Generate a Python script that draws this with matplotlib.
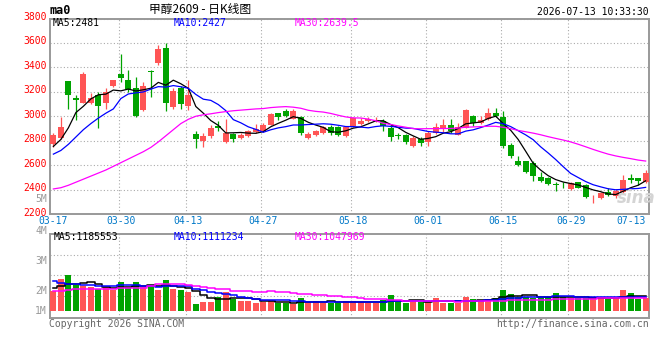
import matplotlib
matplotlib.use("Agg")
import matplotlib.pyplot as plt
import matplotlib.transforms as mtransforms
import numpy as np
import pandas as pd

# 交易日
dates = [
    "03-17", "03-18", "03-19", "03-20", "03-23", "03-24", "03-25", "03-26", "03-27", "03-30", "03-31",
    "04-01", "04-02", "04-03", "04-07", "04-08", "04-09", "04-10", "04-13", "04-14", "04-15", "04-16",
    "04-17", "04-20", "04-21", "04-22", "04-23", "04-24", "04-27", "04-28", "04-29", "04-30",
    "05-06", "05-07", "05-08", "05-11", "05-12", "05-13", "05-14", "05-15", "05-18", "05-19", "05-20",
    "05-21", "05-22", "05-25", "05-26", "05-27", "05-28", "05-29",
    "06-01", "06-02", "06-03", "06-04", "06-05", "06-08", "06-09", "06-10", "06-11", "06-12",
    "06-15", "06-16", "06-17", "06-18", "06-22", "06-23", "06-24", "06-25", "06-26", "06-29", "06-30",
    "07-01", "07-02", "07-03", "07-06", "07-07", "07-08", "07-09", "07-10", "07-13",
]
tick_dates = ["03-17", "03-30", "04-13", "04-27", "05-18", "06-01", "06-15", "06-29", "07-13"]

opens = [2772, 2822, 3288, 3150, 3109, 3109, 3170, 3109, 3247, 3348,
         3296, 3228, 3055, 3370, 3434, 3557, 3074, 3228, 3082, 2852,
         2794, 2835, 2918, 2786, 2855, 2822, 2835, 2871, 2877, 2932,
         3025, 3040, 2980, 2992, 2822, 2844, 2863, 2915, 2912, 2835,
         2918, 2937, 2959, 2963, 2959, 2904, 2843, 2844, 2753, 2813,
         2789, 2863, 2899, 2932, 2849, 2904, 3000, 2945, 2975, 3025,
         2992, 2767, 2635, 2630, 2616, 2500, 2492, 2440, 2445, 2405,
         2459, 2438, 2330, 2329, 2384, 2351, 2384, 2498, 2492, 2465]
highs = [2860, 2990, 3290, 3175, 3365, 3190, 3200, 3230, 3300, 3508,
         3380, 3320, 3280, 3375, 3580, 3600, 3230, 3250, 3300, 2877,
         2860, 2925, 2960, 2981, 2860, 2862, 2885, 2938, 2945, 3030,
         3030, 3058, 3060, 3000, 2870, 2885, 2920, 2925, 2918, 2918,
         2992, 2985, 2992, 2992, 2980, 2935, 2865, 2855, 2837, 2830,
         2880, 2945, 2975, 2975, 2945, 3060, 3012, 3000, 3065, 3070,
         3041, 2780, 2675, 2630, 2635, 2545, 2505, 2460, 2465, 2465,
         2465, 2445, 2352, 2378, 2410, 2405, 2520, 2530, 2498, 2560]
lows = [2750, 2815, 3058, 2967, 3105, 3100, 2904, 3063, 3240, 3280,
        3200, 2990, 3040, 3160, 3420, 3040, 3060, 3060, 3050, 2737,
        2745, 2820, 2880, 2780, 2790, 2815, 2828, 2860, 2870, 2925,
        2970, 2990, 2975, 2850, 2815, 2838, 2855, 2850, 2835, 2830,
        2915, 2930, 2955, 2955, 2880, 2800, 2810, 2775, 2745, 2760,
        2753, 2855, 2870, 2865, 2843, 2900, 2920, 2940, 2970, 2990,
        2739, 2660, 2590, 2535, 2470, 2465, 2438, 2390, 2410, 2398,
        2410, 2335, 2290, 2325, 2350, 2335, 2375, 2455, 2440, 2450]
closes = [2849, 2909, 3173, 3129, 3348, 3150, 3080, 3198, 3296, 3315,
          3225, 3000, 3247, 3360, 3554, 3109, 3206, 3101, 3173, 2811,
          2835, 2904, 2904, 2863, 2817, 2849, 2877, 2896, 2932, 3016,
          2990, 3005, 3040, 2863, 2855, 2877, 2910, 2860, 2845, 2912,
          2986, 2965, 2981, 2967, 2918, 2827, 2840, 2789, 2822, 2780,
          2863, 2910, 2932, 2883, 2910, 3055, 2945, 2973, 3025, 3005,
          2753, 2671, 2597, 2542, 2514, 2473, 2443, 2437, 2442, 2451,
          2416, 2342, 2335, 2370, 2357, 2390, 2479, 2479, 2471, 2539]
volumes = [1600000, 2560000, 2880000, 2080000, 2020000, 1940000, 1740000, 1940000, 1680000, 2320000,
           1940000, 2320000, 1940000, 2020000, 1680000, 2480000, 1760000, 1680000, 1540000, 560000,
           740000, 740000, 1140000, 1540000, 940000, 820000, 820000, 660000, 740000, 800000,
           620000, 620000, 540000, 1060000, 740000, 820000, 620000, 620000, 620000, 820000,
           820000, 740000, 620000, 620000, 880000, 1280000, 740000, 660000, 800000, 740000,
           800000, 1060000, 660000, 660000, 660000, 1140000, 960000, 880000, 960000, 1060000,
           1680000, 1360000, 1100000, 1140000, 1060000, 1020000, 1100000, 1460000, 1140000, 1020000,
           1020000, 1060000, 1100000, 1100000, 960000, 960000, 1680000, 1460000, 960000, 1020000]

# 均线开头部分（窗口早于图中第一天，从图上读取）
ma5_head = [2753, 2810, 2905, 3030]
ma10_head = [2690, 2720, 2770, 2830, 2890, 2940, 2985, 3025, 3060]
ma30_head = [2405, 2415, 2435, 2460, 2485, 2510, 2535, 2560, 2590, 2620,
             2650, 2680, 2710, 2745, 2790, 2840, 2890, 2940, 2975, 3000,
             3012, 3020, 3030, 3038, 3045, 3050, 3055, 3060, 3063]
vma5_head = [1816000, 2024000, 2136000, 2144000]
vma10_head = [2400000, 2224000, 2160000, 2144000, 2120000, 2080000, 2016000, 2000000, 1976000]
vma30_head = [1600000, 1616000, 1720000, 1728000, 1736000, 1736000, 1744000, 1744000, 1760000, 1840000,
              1864000, 1864000, 1864000, 2000000, 2136000, 2136000, 2136000, 2136000, 2120000, 2000000,
              1920000, 1840000, 1800000, 1760000, 1640000, 1624000, 1624000, 1560000, 1520000]

price_ticks = [2200, 2400, 2600, 2800, 3000, 3200, 3400, 3600, 3800]


def moving_avg(values, n, head):
    s = pd.Series(values, dtype=float).rolling(n).mean()
    s.iloc[:len(head)] = head
    return s.values


RED = "#ff5555"
GREEN = "#00a300"
GRID = "#aaaaaa"
MONO = "DejaVu Sans Mono"

W, H = 660, 360
fig = plt.figure(figsize=(W / 100, H / 100), dpi=100)


def box(l, t, r, b):
    return [l / W, 1 - b / H, (r - l) / W, (b - t) / H]


def ftext(x, y, s, **kw):
    kw.setdefault("family", MONO)
    kw.setdefault("fontsize", 7)
    kw.setdefault("va", "center")
    fig.text(x / W, 1 - y / H, s, **kw)


ax = fig.add_axes(box(50, 18.5, 649, 214))
axv = fig.add_axes(box(50, 234.3, 649, 318.3), sharex=ax)

x = np.arange(len(dates))
o = np.array(opens)
c = np.array(closes)
up = c >= o
colors = np.where(up, RED, GREEN)

# K线
ax.vlines(x, lows, highs, colors=colors, linewidth=0.9, zorder=3)
body = np.maximum(np.abs(c - o), 5)
ax.bar(x, body, bottom=np.minimum(o, c), width=0.78, color=colors, linewidth=0, zorder=4)

ax.plot(x, moving_avg(closes, 5, ma5_head), color="black", lw=0.9, zorder=5)
ax.plot(x, moving_avg(closes, 10, ma10_head), color="#0000ff", lw=0.9, zorder=5)
ax.plot(x, moving_avg(closes, 30, ma30_head), color="#ff00ff", lw=0.9, zorder=5)

ax.set_xlim(-0.45, len(dates) - 0.55)
ax.set_ylim(price_ticks[0], price_ticks[-1])
ax.set_yticks(price_ticks)
ax.set_yticklabels([str(t) for t in price_ticks], color="#ff0000", family=MONO, fontsize=7)
ax.yaxis.grid(True, color=GRID, linestyle=(0, (1, 2)), linewidth=0.8)
tick_idx = [dates.index(d) for d in tick_dates]
ax.set_xticks(tick_idx)
ax.set_xticklabels(tick_dates, color="#0078c8", family=MONO, fontsize=7)
ax.get_xticklabels()[-1].set_ha("right")
ax.get_xticklabels()[-1].set_x(len(dates) - 0.4)
ax.tick_params(axis="both", length=0)
ax.tick_params(axis="x", pad=1.5)
ax.tick_params(axis="y", pad=2.5)
# 纵轴数字略高于网格线
shift_up = mtransforms.ScaledTranslation(0, 2.5 / 100, fig.dpi_scale_trans)
for lab in ax.get_yticklabels():
    lab.set_transform(lab.get_transform() + shift_up)

# 成交量
axv.bar(x, volumes, width=0.78, color=colors, linewidth=0, zorder=3)
axv.step(x, moving_avg(volumes, 5, vma5_head), where="mid", color="black", lw=1.1, zorder=4)
axv.step(x, moving_avg(volumes, 10, vma10_head), where="mid", color="#0000ff", lw=1.1, zorder=4)
axv.step(x, moving_avg(volumes, 30, vma30_head), where="mid", color="#ff00ff", lw=1.1, zorder=4)
axv.set_ylim(-584000, 6136000)
axv.set_yticks([])
axv.tick_params(axis="x", length=0, labelbottom=False)
for f in (0.754, 0.516, 0.266):
    axv.plot([0, 1], [f, f], transform=axv.transAxes, color=GRID, linestyle=(0, (1, 2)), lw=0.8, zorder=1)

for a in (ax, axv):
    for i in tick_idx[1:-1]:
        a.axvline(i - 0.3, color=GRID, linestyle=(0, (1, 2)), lw=0.8, zorder=1)
    a.set_axisbelow(True)
    for sp in a.spines.values():
        sp.set_color("#999999")
        sp.set_linewidth(1.4)

# 文字
ftext(50, 11, "ma0", fontweight="bold", fontsize=8.5)
ftext(200, 10, "甲醇2609 - 日K线图", family=["Noto Sans CJK SC", "DejaVu Sans"], fontsize=8.5, ha="center")
ftext(649, 12, "2026-07-13 10:33:30", ha="right")
ftext(53, 23.5, "MA5:2481", color="black")
ftext(174, 23.5, "MA10:2427", color="#0000ff")
ftext(295, 23.5, "MA30:2639.5", color="#ff00ff")
ftext(54, 237.5, "MA5:1185553", color="black")
ftext(174, 237.5, "MA10:1111234", color="#0000ff")
ftext(295, 237.5, "MA30:1047969", color="#ff00ff")
ftext(47, 199, "5M", color="#999999", ha="right")
for lab, yy in (("4M", 231), ("3M", 260.5), ("2M", 290.5), ("1M", 310.5)):
    ftext(47, yy, lab, color="#999999", ha="right")
ftext(49, 324, "Copyright 2026 SINA.COM", color="#666666")
ftext(649, 324, "http://finance.sina.com.cn", color="#666666", ha="right")
ftext(636, 198, "sina", family="DejaVu Sans", fontsize=12, fontstyle="italic",
      fontweight="bold", color="#d4d4d4", ha="center", zorder=0)

fig.savefig("out.png", dpi=100, facecolor="white")
